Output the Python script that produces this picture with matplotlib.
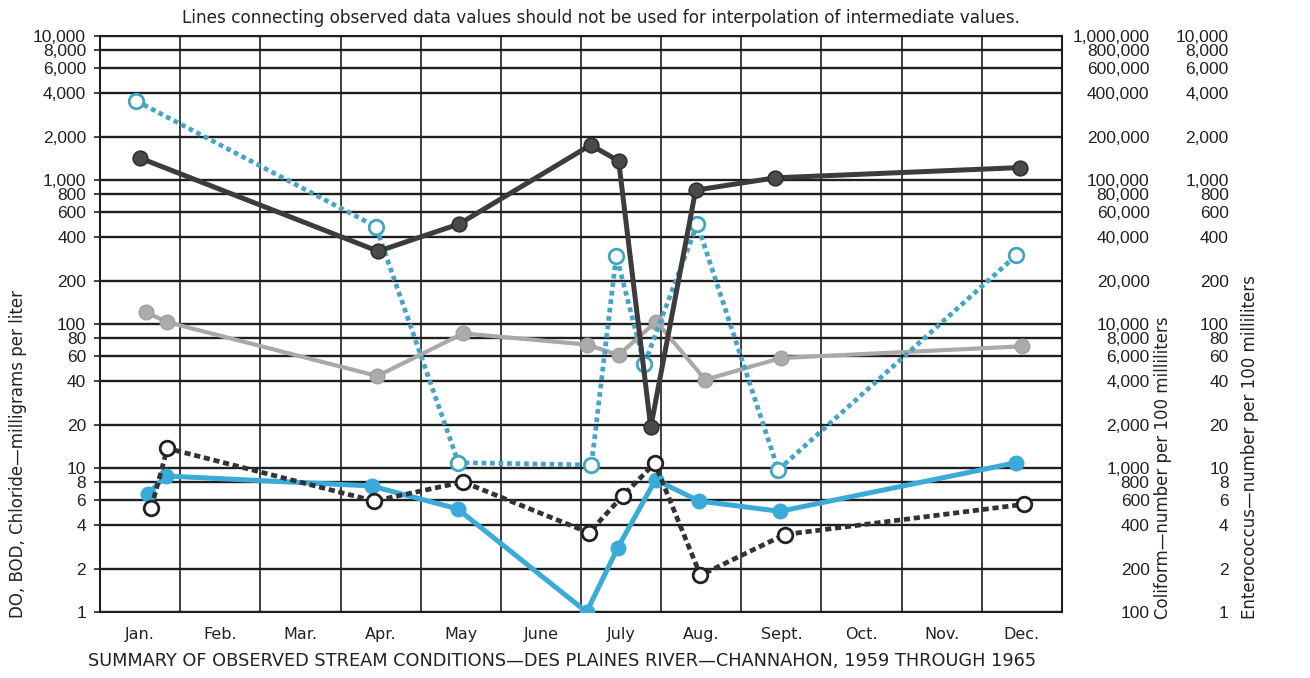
import matplotlib
matplotlib.use("Agg")
import matplotlib.pyplot as plt
from matplotlib import font_manager
from matplotlib.ticker import FixedLocator, NullFormatter, FixedFormatter

names = {f.name for f in font_manager.fontManager.ttflist}
if "Liberation Sans Narrow" in names:
    NARROW = "Liberation Sans Narrow"
else:
    NARROW = "DejaVu Sans"
NUMFONT = "Liberation Sans" if "Liberation Sans" in names else "DejaVu Sans"
plt.rcParams["font.family"] = [NARROW, "DejaVu Sans"]

# ---- data (x in months from Jan 1; y on left scale units) ----
months = ["Jan.", "Feb.", "Mar.", "Apr.", "May", "June", "July", "Aug.", "Sept.", "Oct.", "Nov.", "Dec."]

coliform_x = [0.50, 3.47, 4.48, 6.12, 6.47, 6.87, 7.43, 8.42, 11.48]
coliform_y = [1420, 320, 495, 1750, 1355, 19.2, 850, 1035, 1220]   # x100 on coliform scale

chloride_x = [0.57, 0.84, 3.46, 4.53, 6.07, 6.47, 6.94, 7.55, 8.49, 11.50]
chloride_y = [121, 103, 43.5, 86, 72, 61, 104, 41, 58, 70]

entero_x = [0.45, 3.44, 4.47, 6.13, 6.44, 6.79, 7.45, 8.46, 11.43]
entero_y = [3550, 475, 10.9, 10.5, 298, 52.5, 495, 9.7, 300]

do_x = [0.60, 0.82, 3.39, 4.46, 6.07, 6.46, 6.93, 7.47, 8.48, 11.43]
do_y = [6.6, 8.8, 7.5, 5.2, 1.0, 2.8, 8.3, 5.9, 5.0, 10.9]

bod_x = [0.64, 0.84, 3.42, 4.53, 6.10, 6.52, 6.92, 7.49, 8.54, 11.53]
bod_y = [5.3, 13.7, 5.9, 8.0, 3.55, 6.4, 10.8, 1.8, 3.45, 5.6]

left_ticks = [1, 2, 4, 6, 8, 10, 20, 40, 60, 80, 100, 200, 400, 600, 800,
              1000, 2000, 4000, 6000, 8000, 10000]
left_labels = ["1", "2", "4", "6", "8", "10", "20", "40", "60", "80", "100", "200", "400",
               "600", "800", "1,000", "2,000", "4,000", "6,000", "8,000", "10,000"]
coli_labels = ["100", "200", "400", "600", "800", "1,000", "2,000", "4,000", "6,000", "8,000",
               "10,000", "20,000", "40,000", "60,000", "80,000", "100,000", "200,000",
               "400,000", "600,000", "800,000", "1,000,000"]
ent_labels = left_labels

# ---- figure ----
W, H = 1310, 678
fig = plt.figure(figsize=(W / 100, H / 100), dpi=100)
L, R, B, T = 100, 1062, 612, 36
ax = fig.add_axes([L / W, (H - B) / H, (R - L) / W, (B - T) / H])
ax.set_yscale("log")
ax.set_ylim(1, 10000)
ax.set_xlim(0, 12)

GRID = "#1e1e1e"
NUMSIZE = 12.5
for v in left_ticks:
    ax.axhline(v, color=GRID, lw=1.7, zorder=1)
for m in range(1, 12):
    ax.axvline(m, color=GRID, lw=1.2, zorder=1)
for s in ax.spines.values():
    s.set_color(GRID)
    s.set_linewidth(1.5)

ax.xaxis.set_major_locator(FixedLocator(range(13)))
ax.xaxis.set_major_formatter(NullFormatter())
ax.xaxis.set_minor_locator(FixedLocator([i + 0.5 for i in range(12)]))
ax.xaxis.set_minor_formatter(FixedFormatter(months))
ax.tick_params(axis="x", which="both", length=0, pad=11, labelsize=11.5, colors="#222222")

ax.yaxis.set_major_locator(FixedLocator(left_ticks))
ax.yaxis.set_major_formatter(FixedFormatter(left_labels))
ax.yaxis.set_minor_locator(FixedLocator([]))
ax.tick_params(axis="y", which="major", length=4, width=1.2, pad=6, labelsize=NUMSIZE, colors="#222222")
for lab in ax.get_yticklabels():
    lab.set_fontfamily(NUMFONT)

def right_axis(labels, pad):
    a = ax.twinx()
    a.set_yscale("log")
    a.set_ylim(1, 10000)
    a.yaxis.set_major_locator(FixedLocator(left_ticks))
    a.yaxis.set_major_formatter(FixedFormatter(labels))
    a.yaxis.set_minor_locator(FixedLocator([]))
    a.tick_params(axis="y", length=0, pad=pad, labelsize=NUMSIZE, colors="#222222")
    for lab in a.get_yticklabels():
        lab.set_horizontalalignment("right")
        lab.set_fontfamily(NUMFONT)
    for s in a.spines.values():
        s.set_visible(False)
    return a

right_axis(coli_labels, 63)
right_axis(ent_labels, 120)

# ---- series ----
ax.plot(coliform_x, coliform_y, color="#3c3c3c", lw=3.6, zorder=5,
        marker="o", ms=10.5, mfc="#4a4a4a", mec="#2e2e2e", mew=1.2)
ax.plot(chloride_x, chloride_y, color="#a9a9a9", lw=3.0, zorder=4,
        marker="o", ms=10.5, mfc="#ababab", mec="#a0a0a0")
ax.plot(entero_x, entero_y, color="#45a5c4", lw=3.4, zorder=4,
        linestyle=(0, (1.0, 0.8)), dash_capstyle="butt",
        marker="o", ms=10.5, mfc="white", mec="#40a6c2", mew=2.0)
ax.plot(do_x, do_y, color="#3aaad8", lw=3.6, zorder=5,
        marker="o", ms=10.5, mfc="#3aaad8", mec="#3aaad8")
ax.plot(bod_x, bod_y, color="#333333", lw=3.4, zorder=6,
        linestyle=(0, (1.3, 0.8)), dash_capstyle="butt",
        marker="o", ms=10.5, mfc="white", mec="#222222", mew=2.0)

# ---- text ----
fig.text(601 / W, 1 - 18 / H, "Lines connecting observed data values should not be used for interpolation of intermediate values.",
         ha="center", va="center", fontsize=12.2, color="#222222")
fig.text(562 / W, 1 - 661 / H, "SUMMARY OF OBSERVED STREAM CONDITIONS\u2014DES PLAINES RIVER\u2014CHANNAHON, 1959 THROUGH 1965",
         ha="center", va="center", fontsize=12.8, color="#222222")
fig.text(18 / W, 1 - 618 / H, "DO, BOD, Chloride\u2014milligrams per liter", rotation=90,
         ha="center", va="bottom", fontsize=12, color="#222222")
fig.text(1163 / W, 1 - 619 / H, "Coliform\u2014number per 100 milliliters", rotation=90,
         ha="center", va="bottom", fontsize=12, color="#222222")
fig.text(1250 / W, 1 - 619 / H, "Enterococcus\u2014number per 100 milliliters", rotation=90,
         ha="center", va="bottom", fontsize=12, color="#222222")

fig.savefig("out.png", dpi=100)
